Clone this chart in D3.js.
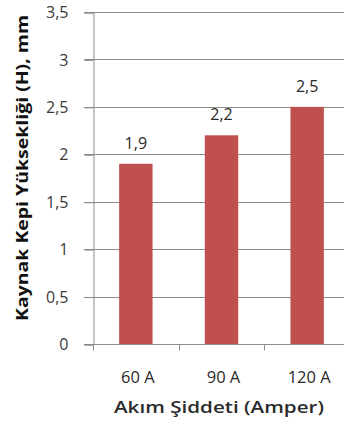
<!DOCTYPE html>
<html>
<head>
<meta charset="utf-8">
<script src="https://cdn.jsdelivr.net/npm/d3@7"></script>
<style>
  html, body { margin: 0; padding: 0; background: #fff; }
  svg { display: block; }
  text { font-family: "Open Sans", "Noto Sans", sans-serif; }
</style>
</head>
<body>
<svg id="chart" width="344" height="421"></svg>
<script>
// Weld bead height for each welding current
const categories = ["60 A", "90 A", "120 A"];
const heights = [1.9, 2.2, 2.5];
const valueLabels = ["1,9", "2,2", "2,5"];
const yTicks = [0, 0.5, 1, 1.5, 2, 2.5, 3, 3.5];
const yTickLabels = ["0", "0,5", "1", "1,5", "2", "2,5", "3", "3,5"];

const svg = d3.select("#chart");
const plotLeft = 93, plotRight = 350, plotTop = 12, plotBottom = 344;

const x = d3.scaleBand().domain(categories).range([plotLeft, plotRight]).paddingInner(0.61).paddingOuter(0.305);
const y = d3.scaleLinear().domain([0, 3.5]).range([plotBottom, plotTop]);

// horizontal gridlines
svg.append("g")
  .selectAll("line")
  .data(yTicks)
  .join("line")
  .attr("x1", plotLeft - 9).attr("x2", plotRight)
  .attr("y1", d => Math.round(y(d)) + 0.5).attr("y2", d => Math.round(y(d)) + 0.5)
  .attr("stroke", "#8c8c8c").attr("stroke-width", 1);

// y axis
const yAxis = svg.append("g")
  .attr("transform", `translate(${plotLeft + 0.5},0.5)`)
  .call(d3.axisLeft(y).tickValues(yTicks).tickFormat((d, i) => yTickLabels[i]).tickSize(9).tickPadding(16));
yAxis.select(".domain").attr("stroke", "#8c8c8c");
yAxis.selectAll(".tick line").attr("stroke", "#8c8c8c");
yAxis.selectAll(".tick text").attr("fill", "#3a3a3a").style("font-size", "16px")
  .style("font-family", "'Open Sans', sans-serif");

// bars
svg.append("g")
  .selectAll("rect")
  .data(heights)
  .join("rect")
  .attr("x", (d, i) => x(categories[i]))
  .attr("width", x.bandwidth())
  .attr("y", d => y(d))
  .attr("height", d => y(0) - y(d))
  .attr("fill", "#c0504d");

// value labels above bars
svg.append("g")
  .selectAll("text")
  .data(heights)
  .join("text")
  .attr("x", (d, i) => x(categories[i]) + x.bandwidth() / 2)
  .attr("y", d => y(d) - 15)
  .attr("text-anchor", "middle")
  .attr("fill", "#2a2a2a")
  .style("font-size", "16px")
  .text((d, i) => valueLabels[i]);

// x axis with ticks at category boundaries
const xAxisG = svg.append("g").attr("transform", `translate(0,${plotBottom + 0.5})`);
xAxisG.append("line").attr("x1", plotLeft - 9).attr("x2", plotRight).attr("stroke", "#8c8c8c");
const step = x.step();
xAxisG.selectAll("line.tk")
  .data(categories)
  .join("line")
  .attr("class", "tk")
  .attr("x1", (d, i) => Math.round(plotLeft + i * step) + 0.5)
  .attr("x2", (d, i) => Math.round(plotLeft + i * step) + 0.5)
  .attr("y1", 0).attr("y2", 6)
  .attr("stroke", "#8c8c8c");
xAxisG.selectAll("text")
  .data(categories)
  .join("text")
  .attr("x", d => x(d) + x.bandwidth() / 2 + 2)
  .attr("y", 38)
  .attr("text-anchor", "middle")
  .attr("fill", "#2a2a2a")
  .style("font-size", "16.5px")
  .text(d => d);

// axis titles
svg.append("text")
  .attr("x", 219).attr("y", 413)
  .attr("text-anchor", "middle")
  .attr("fill", "#2b2b2b")
  .style("font-size", "17px").style("font-weight", "600")
  .attr("textLength", 210).attr("lengthAdjust", "spacingAndGlyphs")
  .text("Akım Şiddeti (Amper)");

svg.append("text")
  .attr("transform", "translate(28,168) rotate(-90)")
  .attr("text-anchor", "middle")
  .attr("fill", "#111")
  .style("font-size", "16.5px").style("font-weight", "700")
  .attr("textLength", 306).attr("lengthAdjust", "spacingAndGlyphs")
  .text("Kaynak Kepi Yüksekliği (H), mm");
</script>
</body>
</html>
